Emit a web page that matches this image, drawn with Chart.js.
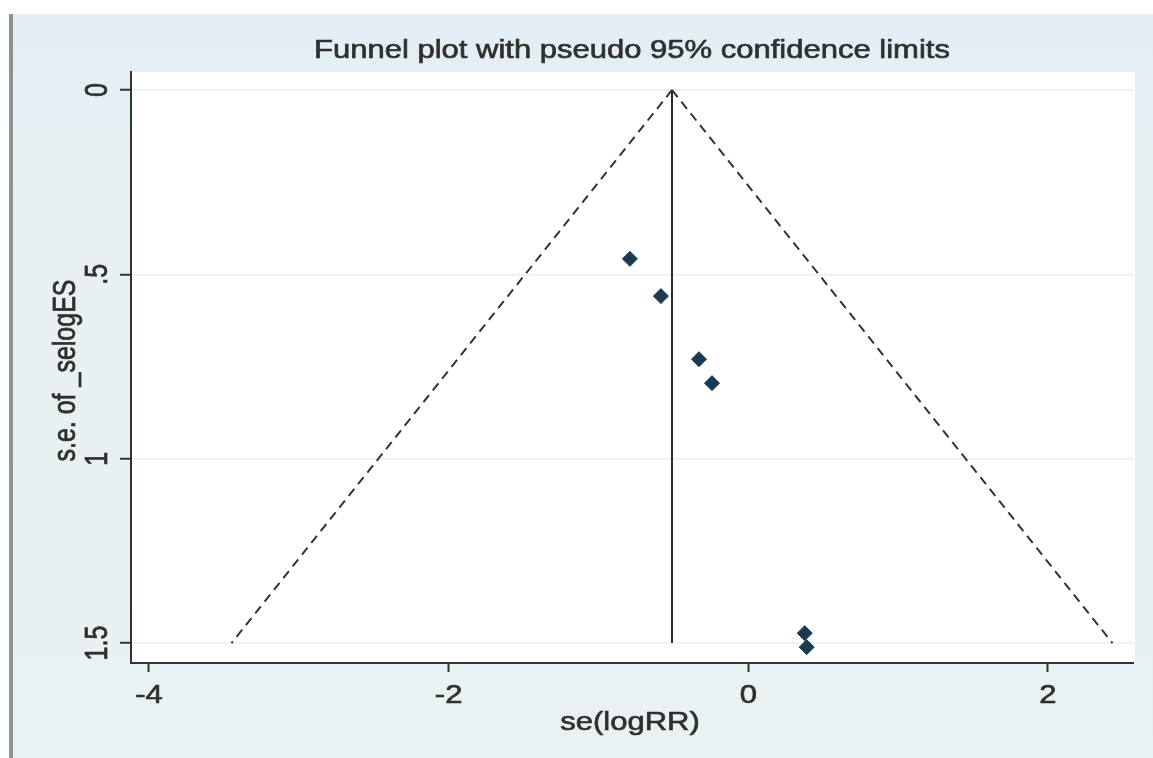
<!DOCTYPE html>
<html>
<head>
<meta charset="utf-8">
<script src="https://cdn.jsdelivr.net/npm/chart.js@4.4.1/dist/chart.umd.min.js"></script>
<style>
  html, body { margin: 0; padding: 0; background: #ffffff; overflow: hidden; }
  #c { display: block; }
</style>
</head>
<body>
<canvas id="c" width="1153" height="758"></canvas>
<script>
// ---- data ----
const TITLE = 'Funnel plot with pseudo 95% confidence limits';
const X_TITLE = 'se(logRR)';
const Y_TITLE = 's.e. of _selogES';
const STUDY_EFFECT = [-0.79, -0.583, -0.329, -0.242, 0.377, 0.390];
const STUDY_SE     = [0.458, 0.559, 0.730, 0.795, 1.473, 1.511];
const POOLED = -0.509;
const SE_MAX = 1.5;
const Z95 = 1.96;
const X_TICKS = [-4, -2, 0, 2];
const X_TICK_LABELS = ['-4', '-2', '0', '2'];
const Y_TICKS = [0, 0.5, 1, 1.5];
const Y_TICK_LABELS = ['0', '.5', '1', '1.5'];

// ---- derived series ----
const studies = STUDY_EFFECT.map((x, i) => ({ x: x, y: STUDY_SE[i] }));
const funnelLeft = [{ x: POOLED, y: 0 }, { x: POOLED - Z95 * SE_MAX, y: SE_MAX }];
const funnelRight = [{ x: POOLED, y: 0 }, { x: POOLED + Z95 * SE_MAX, y: SE_MAX }];
const pooledLine = [{ x: POOLED, y: 0 }, { x: POOLED, y: SE_MAX }];

const TEXT_COLOR = '#2f2f2f';
const FONT = '"Liberation Sans", Arial, sans-serif';
const STRETCH = 1.24;

const decor = {
  id: 'decor',
  beforeDraw(chart) {
    const ctx = chart.ctx;
    const ca = chart.chartArea;
    ctx.save();
    ctx.fillStyle = '#ffffff';
    ctx.fillRect(0, 0, chart.width, chart.height);
    ctx.fillStyle = '#8f9294';
    ctx.fillRect(9, 14, 4, chart.height - 14);
    const g = ctx.createLinearGradient(0, 14, 0, chart.height);
    g.addColorStop(0, '#e2eef4');
    g.addColorStop(0.2, '#e8f0f3');
    g.addColorStop(1, '#e9f1f2');
    ctx.fillStyle = g;
    ctx.fillRect(13, 14, chart.width - 13, chart.height - 14);
    ctx.fillStyle = '#ffffff';
    ctx.fillRect(ca.left, ca.top, ca.right - ca.left + 2, ca.bottom - ca.top);
    ctx.restore();
  },
  afterDraw(chart) {
    const ctx = chart.ctx;
    const ca = chart.chartArea;
    const xs = chart.scales.x, ys = chart.scales.y;
    const cx = (ca.left + ca.right) / 2;
    const cy = (ca.top + ca.bottom) / 2;
    ctx.save();
    ctx.fillStyle = TEXT_COLOR;
    ctx.strokeStyle = TEXT_COLOR;
    ctx.lineWidth = 0.6;
    ctx.textBaseline = 'alphabetic';
    ctx.textAlign = 'center';
    ctx.font = '25px ' + FONT;

    const draw = (t) => { ctx.fillText(t, 0, 0); ctx.strokeText(t, 0, 0); };
    const hText = (t, x, y) => {
      ctx.save(); ctx.translate(x, y); ctx.scale(STRETCH, 1); draw(t); ctx.restore();
    };
    const vText = (t, x, y) => {
      ctx.save(); ctx.translate(x, y); ctx.scale(STRETCH, 1); ctx.rotate(-Math.PI / 2); draw(t); ctx.restore();
    };

    hText(TITLE, cx, 58);
    X_TICKS.forEach((v, i) => hText(X_TICK_LABELS[i], xs.getPixelForValue(v), 703));
    hText(X_TITLE, cx - 2, 730);
    Y_TICKS.forEach((v, i) => vText(Y_TICK_LABELS[i], 107, ys.getPixelForValue(v)));
    vText(Y_TITLE, 75, cy + 3);
    ctx.restore();
  }
};

new Chart(document.getElementById('c'), {
  type: 'scatter',
  data: {
    datasets: [
      { type: 'line', data: funnelLeft, borderColor: '#333333', borderWidth: 2, borderDash: [9, 6], pointRadius: 0, fill: false, tension: 0 },
      { type: 'line', data: funnelRight, borderColor: '#333333', borderWidth: 2, borderDash: [9, 6], pointRadius: 0, fill: false, tension: 0 },
      { type: 'line', data: pooledLine, borderColor: '#2a2a2a', borderWidth: 2, pointRadius: 0, fill: false },
      { data: studies, pointStyle: 'rectRot', pointRadius: 7.5, backgroundColor: '#1b3b50', borderColor: '#1b3b50', borderWidth: 1 }
    ]
  },
  options: {
    responsive: false,
    devicePixelRatio: 1,
    animation: false,
    events: [],
    layout: { padding: { left: 0, right: 20, top: 72, bottom: 0 } },
    plugins: { legend: { display: false }, title: { display: false }, tooltip: { enabled: false } },
    scales: {
      x: {
        type: 'linear',
        min: -4.12,
        max: 2.568,
        afterBuildTicks: (s) => { s.ticks = X_TICKS.map(v => ({ value: v })); },
        afterFit: (s) => { s.height = 95; },
        ticks: { display: false },
        grid: { drawOnChartArea: false, drawTicks: true, tickLength: 9, tickColor: '#333333', tickWidth: 2 },
        border: { display: true, color: '#333333', width: 2 }
      },
      y: {
        type: 'linear',
        reverse: true,
        min: -0.0488,
        max: 1.554,
        afterBuildTicks: (s) => { s.ticks = Y_TICKS.map(v => ({ value: v })); },
        afterFit: (s) => { s.width = 131; },
        ticks: { display: false },
        grid: { drawOnChartArea: true, color: '#e9eef0', lineWidth: 1.5, drawTicks: true, tickLength: 11, tickColor: '#333333', tickWidth: 2 },
        border: { display: true, color: '#333333', width: 2 }
      }
    }
  },
  plugins: [decor]
});
</script>
</body>
</html>
